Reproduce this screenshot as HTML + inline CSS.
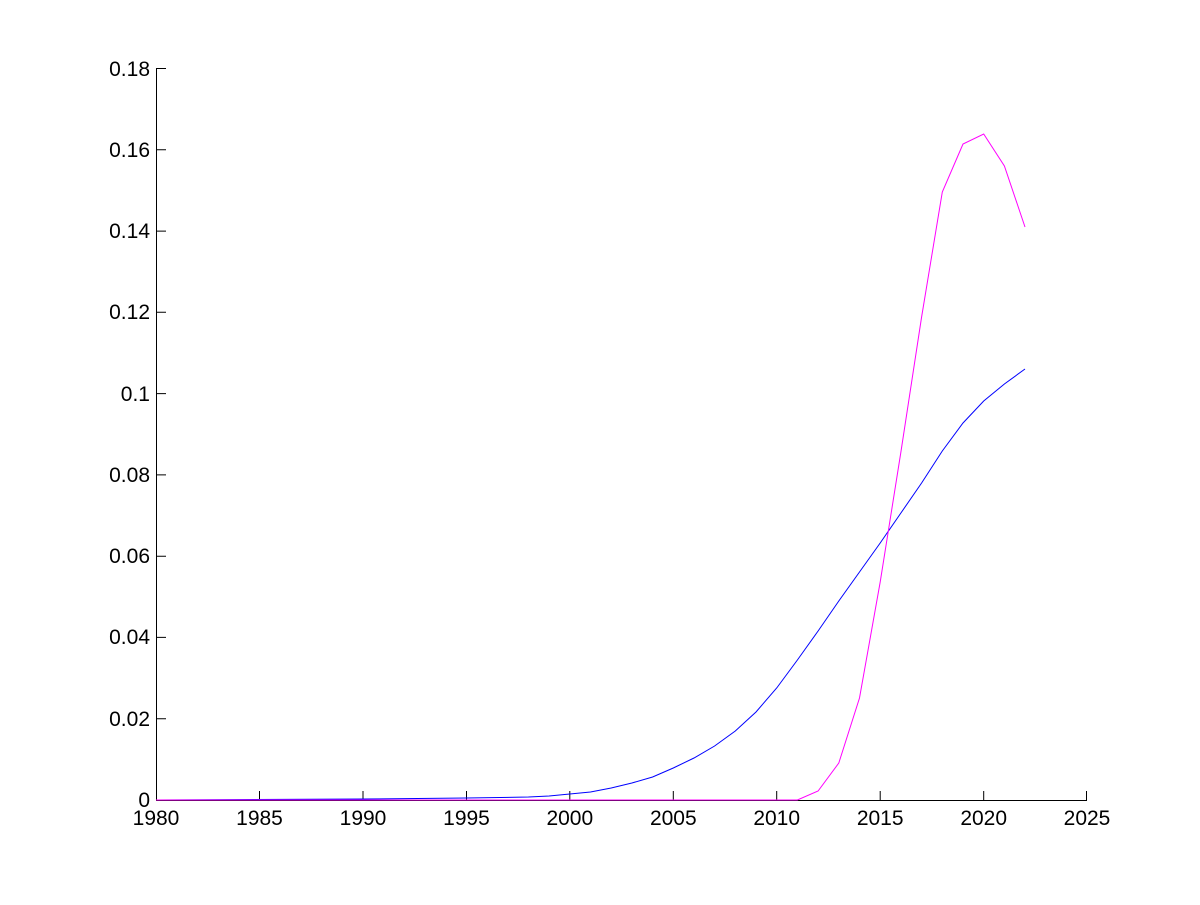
<!DOCTYPE html>
<html><head><meta charset="utf-8"><style>body{margin:0;background:#fff}</style></head><body>
<svg width="1200" height="900" xmlns="http://www.w3.org/2000/svg" font-family="Liberation Sans, sans-serif" font-size="21">
<rect width="1200" height="900" fill="#fff"/>
<g stroke="#000" stroke-width="1" fill="none">
<line x1="156.5" y1="68" x2="156.5" y2="800.5"/>
<line x1="156" y1="800.5" x2="1087" y2="800.5"/>
<path d="M156 68.5h10M156 149.8h10M156 231.1h10M156 312.3h10M156 393.6h10M156 474.9h10M156 556.2h10M156 637.4h10M156 718.7h10"/>
<path d="M259.5 800v-9M363 800v-9M466.5 800v-9M569.8 800v-9M673.3 800v-9M776.7 800v-9M880.2 800v-9M983.7 800v-9M1086.5 800v-9"/>
</g>
<g text-anchor="end">
<text x="150" y="76">0.18</text><text x="150" y="157">0.16</text><text x="150" y="238">0.14</text>
<text x="150" y="319">0.12</text><text x="150" y="401">0.1</text><text x="150" y="482">0.08</text>
<text x="150" y="563">0.06</text><text x="150" y="644">0.04</text><text x="150" y="726">0.02</text>
<text x="150" y="807">0</text>
</g>
<g text-anchor="middle">
<text x="156" y="825">1980</text><text x="259.5" y="825">1985</text><text x="363" y="825">1990</text>
<text x="466.5" y="825">1995</text><text x="569.8" y="825">2000</text><text x="673.3" y="825">2005</text>
<text x="776.7" y="825">2010</text><text x="880.2" y="825">2015</text><text x="983.7" y="825">2020</text>
<text x="1087" y="825">2025</text>
</g>
<polyline fill="none" stroke="#0000ff" stroke-width="1" points="156,800 363,799 466.5,798 528.4,797 549.1,796 569.8,794 590.5,792 611.2,788 631.9,783 652.6,777 673.3,768 694,758 714.6,746 735.3,731 756,712 776.7,688 797.4,660 818.1,631 838.8,601 859.5,572 880.2,543 900.9,513 921.6,483 942.3,451 963,423 983.7,401 1004.4,384 1025,369"/>
<polyline fill="none" stroke="#ff00ff" stroke-width="1" points="156,800 797.4,800 818.1,791 838.8,763 859.5,698 880.2,582 900.9,452 921.6,317 942.3,192 963,144 983.7,134 1004.4,166 1025,227"/>
</svg>
</body></html>
